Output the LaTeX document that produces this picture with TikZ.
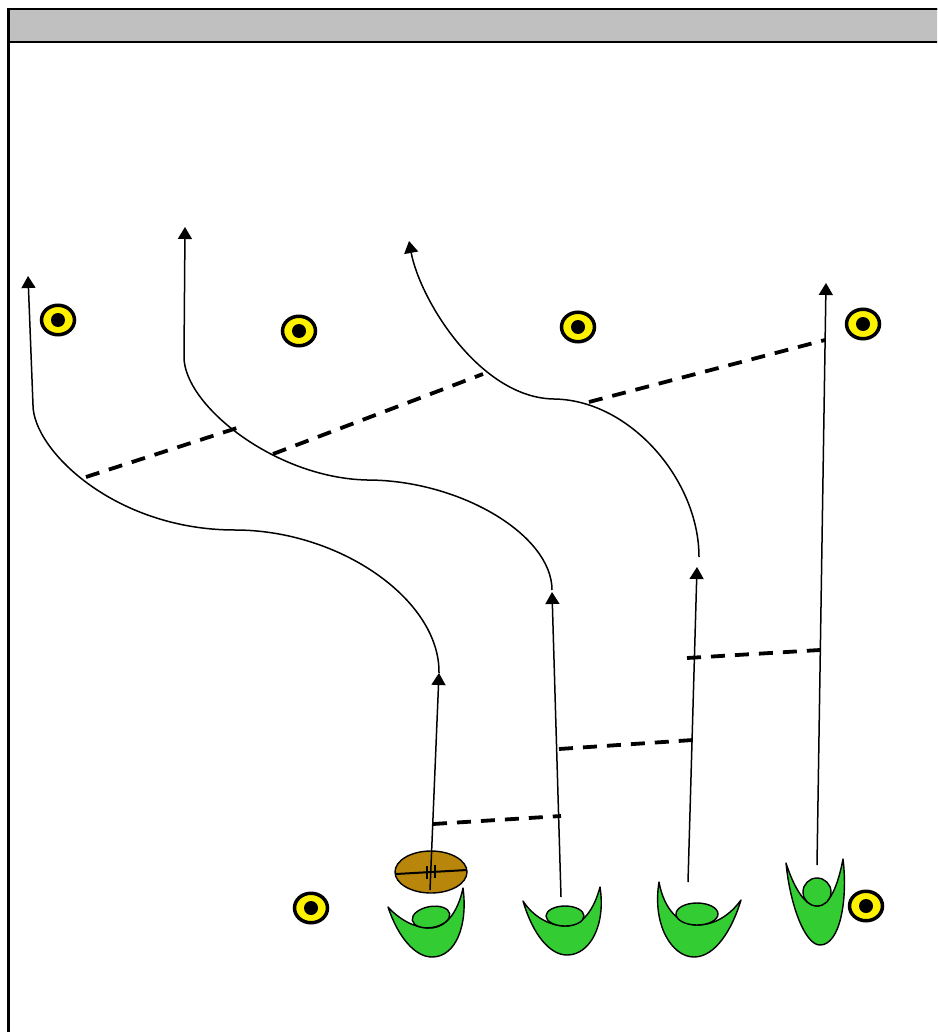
\documentclass[tikz,border=0pt]{standalone}
\usepackage{tikz}
\usetikzlibrary{arrows.meta, shapes.geometric}
\usepackage{xcolor}
\definecolor{bargrey}{HTML}{C0C0C0}
\definecolor{shirtgreen}{HTML}{33CC33}
\definecolor{balltan}{HTML}{B8860B}

\begin{document}
\begin{tikzpicture}[x=1pt, y=-1pt,
    cone/.style={ellipse, draw, line width=3.5pt, fill=yellow, minimum width=33pt, minimum height=29.5pt, inner sep=0pt,
        path picture={\fill[black] (path picture bounding box.center) circle (7pt);}},
    player/.style={fill=shirtgreen, draw=black, line width=1.4pt, line join=round},
    run/.style={line width=1.5pt, -{Triangle[length=12pt, width=14pt]}},
    pass/.style={line width=3.8pt, dash pattern=on 14pt off 10pt}]

    \useasboundingbox (0,0) rectangle (937,1032);
    \fill[white] (0,0) rectangle (937,1032);
    \clip (0,0) rectangle (937,1032);

    % Frame and title bar
    \draw[line width=2.5pt] (8.5,9) rectangle (960,1060);
    \filldraw[fill=bargrey, line width=2.5pt] (8.5,9) rectangle (960,42);

    % Cones
    \node[cone] (cone1) at (58,320) {};
    \node[cone] (cone2) at (299,331) {};
    \node[cone] (cone3) at (578,327) {};
    \node[cone] (cone4) at (863,324) {};
    \node[cone] (cone5) at (311,908) {};
    \node[cone] (cone6) at (866,906) {};

    % Start and end of each run
    \coordinate (start1) at (430,890);
    \coordinate (turn1) at (439,673);
    \coordinate (end1) at (28,276);
    \coordinate (start2) at (561,897);
    \coordinate (turn2) at (552,592);
    \coordinate (end2) at (185,227);
    \coordinate (start3) at (688,882);
    \coordinate (turn3) at (697,567);
    \coordinate (end3) at (409,241);
    \coordinate (start4) at (817,865);
    \coordinate (end4) at (826,283);

    % Ball
    \filldraw[fill=balltan, line width=1.4pt] (431,872) ellipse (36 and 21);
    \draw[line width=2pt] (396,874) -- (467,870);
    \draw[line width=1.2pt] (427,866) -- (427,879);
    \draw[line width=1.2pt] (435,865) -- (435,878);

    % Straight runs
    \draw[run] (start1) -- (turn1);
    \draw[run] (start2) -- (turn2);
    \draw[run] (start3) -- (turn3);
    \draw[run] (start4) -- (end4);

    % Curved runs
    \draw[run] (turn1) .. controls (440,600) and (340,530) .. (235,530)
        .. controls (115,530) and (33,450) .. (33,405) -- (end1);
    \draw[run] (turn2) ++(0,-2) .. controls (552,535) and (460,480) .. (367,480)
        .. controls (275,478) and (184,405) .. (184,357) -- (end2);
    \draw[run] (699,557) .. controls (699,480) and (630,400) .. (554,399)
        .. controls (480,398) and (420,300) .. (end3);

    % Passes
    \coordinate (pass1a) at (433,824);
    \coordinate (pass1b) at (561,816);
    \coordinate (pass2a) at (559,749);
    \coordinate (pass2b) at (693,740);
    \coordinate (pass3a) at (687,658);
    \coordinate (pass3b) at (820,650);
    \coordinate (pass4a) at (86,477);
    \coordinate (pass4b) at (237,428);
    \coordinate (pass5a) at (273,454);
    \coordinate (pass5b) at (483,374);
    \coordinate (pass6a) at (589,402);
    \coordinate (pass6b) at (825,340);
    \draw[pass] (pass1a) -- (pass1b);
    \draw[pass] (pass2a) -- (pass2b);
    \draw[pass] (pass3a) -- (pass3b);
    \draw[pass] (pass4a) -- (pass4b);
    \draw[pass] (pass5a) -- (pass5b);
    \draw[pass] (pass6a) -- (pass6b);

    % Players
    \filldraw[player] (388,907) .. controls (398,937) and (415,957) .. (432,957)
        .. controls (456,957) and (468,925) .. (463,888)
        .. controls (458,912) and (446,928) .. (430,928)
        .. controls (413,928) and (398,918) .. (388,907) -- cycle;
    \filldraw[player, rotate around={10:(431,917)}] (431,917) ellipse (19 and 10.5);

    \filldraw[player] (523,901) .. controls (533,935) and (550,955) .. (567,955)
        .. controls (590,955) and (606,925) .. (600,887)
        .. controls (594,910) and (582,926) .. (566,926)
        .. controls (548,926) and (532,915) .. (523,901) -- cycle;
    \filldraw[player] (565,916) ellipse (19 and 10);

    \filldraw[player] (659,882) .. controls (652,925) and (672,957) .. (694,957)
        .. controls (715,957) and (732,930) .. (741,900)
        .. controls (730,915) and (715,925) .. (697,925)
        .. controls (680,925) and (664,910) .. (659,882) -- cycle;
    \filldraw[player] (697,914) ellipse (21 and 11);

    \filldraw[player] (786,863) .. controls (790,905) and (805,945) .. (820,945)
        .. controls (840,945) and (848,900) .. (843,859)
        .. controls (838,885) and (830,906) .. (817,906)
        .. controls (804,906) and (793,885) .. (786,863) -- cycle;
    \filldraw[player] (817,892) circle (14);

\end{tikzpicture}
\end{document}
